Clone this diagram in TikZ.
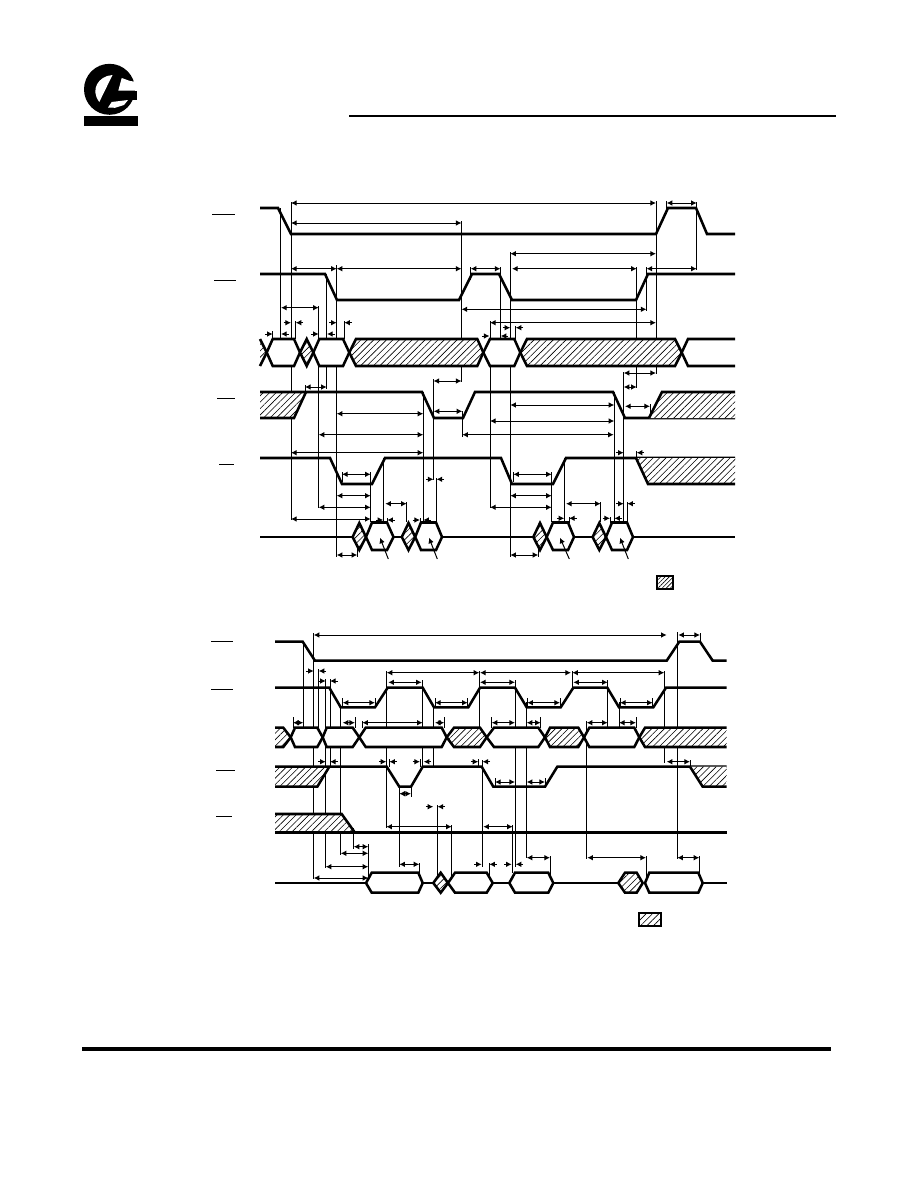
\documentclass[tikz,border=0pt]{standalone}
\usetikzlibrary{arrows.meta,patterns.meta}

\tikzset{
  sig/.style={line width=1.9pt, line join=miter},
  thinline/.style={line width=.75pt},
  dimline/.style={thinline, {Latex[length=4.2pt,width=4.2pt]}-{Latex[length=4.2pt,width=4.2pt]}},
  ptr/.style={thinline, -{Latex[length=4.2pt,width=4.2pt]}},
  hatchfill/.style={preaction={fill=white}, pattern={Lines[angle=45,distance=3.4pt,line width=.45pt]}},
  densefill/.style={preaction={fill=white}, pattern={Lines[angle=45,distance=2.2pt,line width=.45pt]}},
  barline/.style={line width=.75pt},
}

\begin{document}
\begin{tikzpicture}[x=.75pt, y=-.75pt]
    \useasboundingbox (0, 0) rectangle (918, 1188);

    % logo
    \fill (109.5, 89.3) circle (25.5);
    \fill (84, 116) rectangle (138, 126);
    \fill (118, 91) rectangle (136.5, 100);
    \fill[white] (112.5, 75) .. controls (98, 76) and (90, 90) .. (99.3, 102) -- cycle;
    \fill[white] (121.7, 78) -- (118.3, 90.7) -- (137, 90.7) -- (137, 82) -- (130, 81) -- cycle;
    \fill[white] (108, 107.5) -- (111.7, 102) -- (128, 100) -- (124, 105) -- (115, 107.8) -- cycle;

    % page rules
    \draw[line width=1.5pt] (349, 115.5) -- (836, 115.5);
    \draw[line width=2.3pt] (82, 1049) -- (831, 1049);

    % signal name bars
    \foreach \xa/\xb/\yy in {212/234.7/214.3, 214/235.7/280, 217.3/234.7/398.3, 219.3/234/464.3,
      211/233/641, 211/233/689, 216/234.7/770.3, 216/232/816.7}
      \draw[barline] (\xa, \yy) -- (\xb, \yy);

    % timing references, upper chart
    \foreach \xx/\ya/\yb in {291/202/520, 280.5/208/339, 318.7/306/508, 326.7/274/389, 336.7/265/557,
      295.7/321/339, 344.3/321/339, 272.7/331/339, 461.5/221/382, 433.5/379/480, 436.5/478/522,
      423.3/392/522, 305/385/392, 490/321/508, 500.5/267/339, 510.3/252/557, 515.7/326/339,
      470.7/267/280, 656/201/374, 636.7/267/388, 646.5/267/311, 623.7/372/522, 614.3/392/522,
      627.3/502/522, 666.7/201/210, 696.7/202/270, 462.3/411/437, 650/404/418, 383.7/458/522,
      406.7/502/522, 387.3/518/523, 420/518/523, 342/472/482, 370.7/472/522, 357.3/545/557,
      513.3/472/482, 551.7/472/522, 564.3/458/522, 600.7/502/522, 569/517/523, 610/517/523,
      636.7/451/459, 538.3/545/557}
      \draw[thinline] (\xx, \ya) -- (\xx, \yb);

    % timing references, lower chart
    \foreach \xx/\ya/\yb in {303.3/642/728, 313.7/633/879, 318.7/669/728, 325.7/679/868, 330/679/766,
      340.7/707/855, 353.7/828/849, 368.3/844/880, 293/717/728, 355/717/728, 362.3/721/728,
      386.3/671/828, 389.3/759/767, 422.7/680/767, 420/759/767, 433.3/707/767, 444.3/717/728,
      437.3/805/878, 451.7/825/880, 479.3/671/728, 478.3/759/766, 482.5/760/867, 491.7/717/728,
      515/680/867, 526.7/702/858, 540.7/717/728, 545/778/787, 495/778/787, 572.3/671/688,
      586.3/721/859, 607.7/680/728, 619/702/728, 636/717/728, 664.3/671/763, 677.3/632/859,
      690/760/767, 700/633/642, 399.3/787/867, 411/787/797, 419.3/863/877, 489.3/863/877,
      512.7/825/873, 550/856/877, 646/856/877, 699.3/856/877, 342.7/698/708, 375/698/708,
      435/698/708, 467.7/698/708, 527.3/698/708, 560/698/708, 620/698/708, 652.7/698/708}
      \draw[thinline] (\xx, \ya) -- (\xx, \yb);

    % upper chart, strobes
    \draw[sig] (260, 208) -- (278, 208) -- (291, 234) -- (656, 234) -- (668, 208) -- (696, 208)
      -- (707, 234) -- (735, 234);
    \draw[sig] (260, 274) -- (325, 274) -- (337, 300) -- (459, 300) -- (472, 274) -- (499, 274)
      -- (512, 300) -- (636, 300) -- (648, 274) -- (735, 274);

    % upper chart, address bus
    \path[hatchfill] (260, 339) -- (266.7, 352.5) -- (260, 366) -- cycle;
    \draw[sig] (260, 339) -- (266.7, 352.5) -- (260, 366);
    \foreach \ca/\xa/\xb/\cb in {266.7/272.7/294/300, 313.3/319.3/343/349.3, 483.3/490/514.3/520.3}
      \draw[sig, fill=white] (\ca, 352.5) -- (\xa, 339) -- (\xb, 339) -- (\cb, 352.5) -- (\xb, 366) -- (\xa, 366) -- cycle;
    \foreach \ca/\xa/\xb/\cb in {300/306.7/306.7/313.3, 349.3/356/477.3/483.3, 520.3/527/675/681.7}
      \draw[sig, hatchfill] (\ca, 352.5) -- (\xa, 339) -- (\xb, 339) -- (\cb, 352.5) -- (\xb, 366) -- (\xa, 366) -- cycle;
    \draw[sig, fill=white] (735, 339) -- (688, 339) -- (681.7, 352.5) -- (688, 366) -- (735, 366);

    % upper chart, enables
    \path[hatchfill] (260, 392) -- (306, 392) -- (294, 418) -- (260, 418) -- cycle;
    \draw[sig] (260, 418) -- (294, 418) -- (306, 392);
    \draw[sig] (260, 392) -- (422, 392) -- (434, 418) -- (463, 418) -- (475, 392) -- (613, 392)
      -- (625, 418) -- (735, 418);
    \path[hatchfill] (662, 392) -- (735, 392) -- (735, 418) -- (649, 418) -- cycle;
    \draw[sig] (649, 418) -- (662, 392) -- (735, 392);
    \draw[sig] (260, 458) -- (330, 458) -- (342, 484) -- (372, 484) -- (385, 458) -- (501, 458)
      -- (512, 484) -- (553, 484) -- (566, 458) -- (735, 458);
    \path[hatchfill] (636, 458) -- (735, 458) -- (735, 484) -- (648, 484) -- cycle;
    \draw[sig] (636, 458) -- (648, 484) -- (735, 484);

    % upper chart, data bus
    \foreach \xa/\xb in {260/353, 393.5/402, 442/533.3, 574/592.6, 633/735}
      \draw[sig] (\xa, 537) -- (\xb, 537);
    \foreach \cc in {359.3, 408.5, 540, 599.3}
      \draw[sig, hatchfill] (\cc-6.7, 537) -- (\cc, 523) -- (\cc+6.7, 537) -- (\cc, 550) -- cycle;
    \foreach \ca/\xa/\xb/\cb in {366/372/387/393.5, 415.2/421/436/442, 546.7/553/568/574, 606/612/627/633}
      \draw[sig, fill=white] (\ca, 537) -- (\xa, 522.5) -- (\xb, 522.5) -- (\cb, 537) -- (\xb, 550) -- (\xa, 550) -- cycle;

    % lower chart, strobes
    \draw[sig] (275, 641.7) -- (302.7, 641.7) -- (315, 660.7) -- (666.7, 660.7) -- (679.3, 641.7)
      -- (700, 641.7) -- (712.7, 660.7) -- (726.7, 660.7);
    \draw[sig] (275, 687.7) -- (329.3, 687.7) -- (340.7, 707.3) -- (375, 707.3) -- (387.7, 687.7)
      -- (422.7, 687.7) -- (434, 707.3) -- (468.3, 707.3) -- (480, 687.7) -- (515, 687.7)
      -- (526.7, 707.3) -- (560.7, 707.3) -- (573.3, 687.7) -- (607.3, 687.7) -- (619, 707.3)
      -- (653.3, 707.3) -- (666, 687.7) -- (726.7, 687.7);

    % lower chart, address bus
    \path[hatchfill] (275, 727.7) -- (283.3, 727.7) -- (290.7, 737.3) -- (283.3, 747) -- (275, 747) -- cycle;
    \draw[sig] (275, 727.7) -- (283.3, 727.7) -- (290.7, 737.3) -- (283.3, 747) -- (275, 747);
    \foreach \ca/\xa/\xb/\cb in {290.7/295/317.3/322.7, 322.7/326.7/352.7/359.3, 359.3/365.7/441.7/446.7,
      486.7/494/538.3/545, 584/589.3/634.3/639.3}
      \draw[sig, fill=white] (\ca, 737.3) -- (\xa, 727.7) -- (\xb, 727.7) -- (\cb, 737.3) -- (\xb, 747) -- (\xa, 747) -- cycle;
    \foreach \ca/\xa/\xb/\cb in {446.7/454/480/486.7, 545/550/578.3/584}
      \draw[sig, hatchfill] (\ca, 737.3) -- (\xa, 727.7) -- (\xb, 727.7) -- (\cb, 737.3) -- (\xb, 747) -- (\xa, 747) -- cycle;
    \path[hatchfill] (726.7, 727.7) -- (645, 727.7) -- (639.3, 737.3) -- (645, 747) -- (726.7, 747) -- cycle;
    \draw[sig] (726.7, 727.7) -- (645, 727.7) -- (639.3, 737.3) -- (645, 747) -- (726.7, 747);

    % lower chart, enables
    \path[hatchfill] (275, 766.7) -- (329.3, 766.7) -- (317.3, 786.7) -- (275, 786.7) -- cycle;
    \draw[sig] (275, 786.7) -- (317.3, 786.7) -- (329.3, 766.7);
    \draw[sig] (275, 766.7) -- (386.7, 766.7) -- (399.3, 786.7) -- (411, 786.7) -- (422.7, 766.7)
      -- (481.7, 766.7) -- (493.3, 786.7) -- (545, 786.7) -- (557.3, 766.7) -- (726.7, 766.7);
    \path[hatchfill] (690, 766.7) -- (726.7, 766.7) -- (726.7, 786.7) -- (702.7, 786.7) -- cycle;
    \draw[sig] (690, 766.7) -- (702.7, 786.7) -- (726.7, 786.7);
    \path[hatchfill] (275, 814) -- (341.7, 814) -- (355, 832.7) -- (275, 832.7) -- cycle;
    \draw[sig] (275, 814) -- (341.7, 814) -- (355, 832.7);
    \draw[sig] (275, 832.7) -- (726.7, 832.7);

    % lower chart, data bus
    \foreach \xa/\xb in {275/366, 422.7/433.3, 492.7/509.3, 553.3/618.3, 702.7/726.7}
      \draw[sig] (\xa, 883) -- (\xb, 883);
    \draw[sig, hatchfill] (433.3, 883) -- (440.7, 872.7) -- (448, 883) -- (440.7, 892.7) -- cycle;
    \draw[sig, hatchfill] (618.3, 883) -- (625, 872.7) -- (636.7, 872.7) -- (642.7, 883) -- (636.7, 892.7) -- (625, 892.7) -- cycle;
    \foreach \ca/\xa/\xb/\cb in {366/371.7/418.3/422.7, 448/455/486.7/492.7, 509.3/515/548.3/553.3, 645/649.3/698.3/702.7}
      \draw[sig, fill=white] (\ca, 883) -- (\xa, 872.7) -- (\xb, 872.7) -- (\cb, 883) -- (\xb, 892.7) -- (\xa, 892.7) -- cycle;

    % intervals, upper chart
    \foreach \xa/\xb/\yy in {291/656/203, 666.7/696.7/203, 291/461.5/223, 291/336.7/268.7, 336.7/461.5/268.7,
      510.3/656/253.7, 512/636.7/268.7, 470.7/500.5/268.7, 646.5/696.7/268.7, 281/318.7/307.7,
      461.5/646.5/309.3, 490/656/322.7, 623.7/656/373, 433.5/461.5/381, 305/326.7/387, 623.7/636.7/387,
      336.7/423.3/413.7, 318.7/423.3/434.7, 291/423.3/452.7, 433.7/462.3/411.3, 462.3/613.7/434.7,
      490/614.3/421, 510.3/614.3/405, 342/370.7/474.3, 336.7/370.7/495.7, 318.7/370.7/507.3,
      291/370.7/519, 385.3/406.7/503.7, 336.7/357.3/555, 513.3/551.7/474.3, 510.3/551.7/495.7,
      490/551.7/507.3, 566/600.7/503.7, 510.3/538.3/555, 625/650/406.3}
      \draw[dimline] (\xa, \yy) -- (\xb, \yy);

    % intervals, lower chart
    \foreach \xa/\xb/\yy in {313.7/666.7/635, 678.3/700/635, 386.7/479.3/672.7, 480/571/672.7,
      572.3/664.3/672.7, 388.3/421.7/682.3, 480/515/682.3, 573.3/607.7/682.3, 342.7/375/702.7,
      435/467.7/702.7, 527.3/560/702.7, 620/652.7/702.7, 293/303.3/722.7, 342.7/355/722.7,
      362.3/422.7/722.7, 435/444.3/722.7, 491.7/515/722.7, 526.7/540.7/722.7, 586.7/607.7/722.7,
      619/636/722.7, 666.7/690/761.7, 399.3/411/793.7, 386.3/451.7/826.7, 483.3/512.7/826.7,
      495/515/782, 526.7/545/782, 340.7/368.3/853.3, 353.7/368.3/846.7, 325.7/368.3/866.7,
      313.7/368.3/878, 399.3/419.3/864.3, 526.7/550/857.7, 587.3/646/857.7, 677.3/699.3/857.7}
      \draw[dimline] (\xa, \yy) -- (\xb, \yy);

    % short intervals, arrows from outside
    \foreach \xa/\xb/\yy in {291/295.7/322.7, 336.7/344.3/322.7, 272.7/281/334, 318.7/327/334,
      489.5/500.7/336, 510.3/515.7/327.7, 433.5/436.5/479.3, 383.3/387.3/520, 420/423.3/520,
      623.7/636.7/452.7, 623.7/627.3/503.7, 564.3/569/518.3, 610/614.3/518.3,
      313.7/318.7/671, 325.7/330/681, 325.7/330/761.7, 386.3/389.3/761.7, 420/423.7/761.7,
      478.3/482.5/761.7, 433.3/437.5/806.7, 481.7/489.3/864.3, 511.7/515.7/864.3}
    {
      \draw[ptr] (\xa-7.5, \yy) -- (\xa, \yy);
      \draw[ptr] (\xb+7.5, \yy) -- (\xb, \yy);
    }

    % leaders into the data cells
    \foreach \xa/\xb in {388.3/380, 437.3/429, 569.3/560, 628.3/620}
      \draw[ptr] (\xa, 559) -- (\xb, 537.7);

    % legend boxes
    \draw[line width=1.7pt, densefill] (657.3, 575.7) rectangle (672.7, 589.3);
    \draw[line width=1.7pt, hatchfill] (639.3, 912.7) rectangle (660.7, 926);
  \end{tikzpicture}
\end{document}
